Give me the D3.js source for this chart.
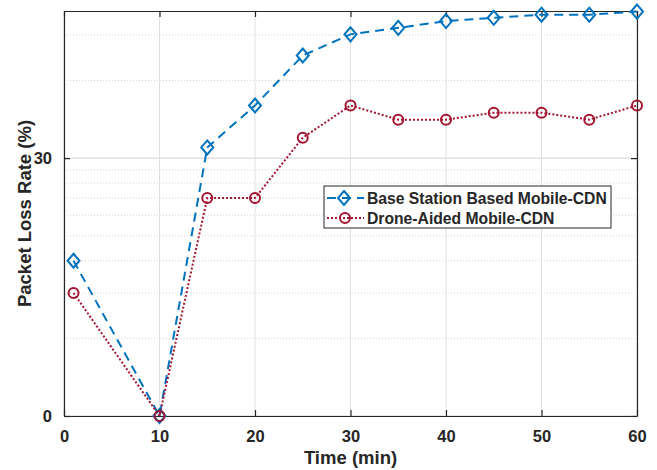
<!DOCTYPE html>
<html lang="en">
<head>
<meta charset="UTF-8">
<title>Packet Loss Rate</title>
<script src="https://cdn.jsdelivr.net/npm/d3@7"></script>
<style>
  body { margin: 0; background: #fff; }
  text { font-family: "Liberation Sans", Arial, Helvetica, sans-serif; font-weight: bold; fill: #262626; }
</style>
</head>
<body>
<svg id="chart" width="657" height="470"></svg>
<script>
// data (y axis is logarithmic, labels are the paper's own)
var times = [1, 10, 15, 20, 25, 30, 35, 40, 45, 50, 55, 60];
var baseStation = [4, 1, 11, 16, 25, 30.2, 32, 34, 35, 36, 36, 37];
var droneAided = [3, 1, 7, 7, 12, 16, 14.1, 14.1, 15, 15, 14.1, 16];
var seriesNames = ["Base Station Based Mobile-CDN", "Drone-Aided Mobile-CDN"];
var xTicks = [0, 10, 20, 30, 40, 50, 60];
var yTicks = [1, 10];
var yTickLabels = ["0", "30"];
var yMinorGrid = [2, 3, 4, 5, 6, 7, 8, 9, 20, 30];

var svg = d3.select("#chart");
var plot = { left: 64, right: 637, top: 11, bottom: 416 };

var x = d3.scaleLinear().domain([0, 60]).range([plot.left, plot.right]);
var y = d3.scaleLog().domain([1, 37.2]).range([plot.bottom, plot.top]);

// grid
var grid = svg.append("g");
grid.selectAll(".minor").data(yMinorGrid).enter().append("line")
  .attr("x1", plot.left).attr("x2", plot.right)
  .attr("y1", function (d) { return y(d); }).attr("y2", function (d) { return y(d); })
  .attr("stroke", "#d4d4d4").attr("stroke-width", 1).attr("stroke-dasharray", "1,2");
grid.selectAll(".vmajor").data(xTicks).enter().append("line")
  .attr("x1", function (d) { return x(d); }).attr("x2", function (d) { return x(d); })
  .attr("y1", plot.top).attr("y2", plot.bottom)
  .attr("stroke", "#e0e0e0").attr("stroke-width", 1);
grid.selectAll(".hmajor").data(yTicks).enter().append("line")
  .attr("x1", plot.left).attr("x2", plot.right)
  .attr("y1", function (d) { return y(d); }).attr("y2", function (d) { return y(d); })
  .attr("stroke", "#e0e0e0").attr("stroke-width", 1.5);

// axes (box with inward ticks)
var xAxis = d3.axisBottom(x).tickValues(xTicks).tickSizeInner(-6).tickSizeOuter(0).tickPadding(14);
var gx = svg.append("g").attr("transform", "translate(0," + plot.bottom + ")").call(xAxis);
var yAxis = d3.axisLeft(y).tickValues(yTicks).tickFormat(function (d, i) { return yTickLabels[i]; })
  .tickSizeInner(-6).tickSizeOuter(0).tickPadding(12);
var gy = svg.append("g").attr("transform", "translate(" + plot.left + ",0)").call(yAxis);
var gt = svg.append("g").attr("transform", "translate(0," + plot.top + ")")
  .call(d3.axisTop(x).tickValues(xTicks).tickSizeInner(-6).tickSizeOuter(0).tickFormat(""));
var gr = svg.append("g").attr("transform", "translate(" + plot.right + ",0)")
  .call(d3.axisRight(y).tickValues(yTicks).tickSizeInner(-6).tickSizeOuter(0).tickFormat(""));
[gx, gy, gt, gr].forEach(function (g) {
  g.select(".domain").attr("stroke", "#262626").attr("stroke-width", 1.2);
  g.selectAll(".tick line").attr("stroke", "#262626").attr("stroke-width", 1.2);
  g.selectAll(".tick text").style("font-size", "16.5px").attr("fill", "#262626");
});

// lines
var line = d3.line()
  .x(function (d) { return x(d[0]); })
  .y(function (d) { return y(d[1]); });
var blueData = times.map(function (t, i) { return [t, baseStation[i]]; });
var redData = times.map(function (t, i) { return [t, droneAided[i]]; });
var blue = "#0072BD", red = "#A2142F";

svg.append("path").datum(blueData).attr("d", line)
  .attr("fill", "none").attr("stroke", blue).attr("stroke-width", 2).attr("stroke-dasharray", "9,6");
svg.append("path").datum(redData).attr("d", line)
  .attr("fill", "none").attr("stroke", red).attr("stroke-width", 2).attr("stroke-dasharray", "2,2");

function diamond(g, cx, cy) {
  g.append("path")
    .attr("d", "M" + cx + "," + (cy - 7) + "L" + (cx + 6) + "," + cy + "L" + cx + "," + (cy + 7) + "L" + (cx - 6) + "," + cy + "Z")
    .attr("fill", "none").attr("stroke", blue).attr("stroke-width", 2);
}
function circle(g, cx, cy) {
  g.append("circle").attr("cx", cx).attr("cy", cy).attr("r", 5)
    .attr("fill", "none").attr("stroke", red).attr("stroke-width", 2);
}
var marks = svg.append("g");
blueData.forEach(function (d) { diamond(marks, x(d[0]), y(d[1])); });
redData.forEach(function (d) { circle(marks, x(d[0]), y(d[1])); });

// axis labels
svg.append("text").attr("x", (plot.left + plot.right) / 2).attr("y", 464)
  .attr("text-anchor", "middle").style("font-size", "18.5px").text("Time (min)");
svg.append("text").attr("transform", "translate(31," + (plot.top + plot.bottom) / 2 + ") rotate(-90)")
  .attr("text-anchor", "middle").style("font-size", "18.5px").text("Packet Loss Rate (%)");

// legend
var lg = svg.append("g").attr("transform", "translate(324,186)");
lg.append("rect").attr("width", 287).attr("height", 42)
  .attr("fill", "#fff").attr("stroke", "#262626").attr("stroke-width", 1);
var rowsY = [12, 32];
lg.append("line").attr("x1", 3).attr("x2", 40).attr("y1", rowsY[0]).attr("y2", rowsY[0])
  .attr("stroke", blue).attr("stroke-width", 2).attr("stroke-dasharray", "9,6");
diamond(lg, 20, rowsY[0]);
lg.append("line").attr("x1", 3).attr("x2", 40).attr("y1", rowsY[1]).attr("y2", rowsY[1])
  .attr("stroke", red).attr("stroke-width", 2).attr("stroke-dasharray", "2,2");
circle(lg, 21, rowsY[1]);
lg.selectAll(".lt").data(seriesNames).enter().append("text")
  .attr("x", 43).attr("y", function (d, i) { return rowsY[i] + 5.5; })
  .style("font-size", "15.7px").attr("fill", "#000").text(function (d) { return d; });
</script>
</body>
</html>
